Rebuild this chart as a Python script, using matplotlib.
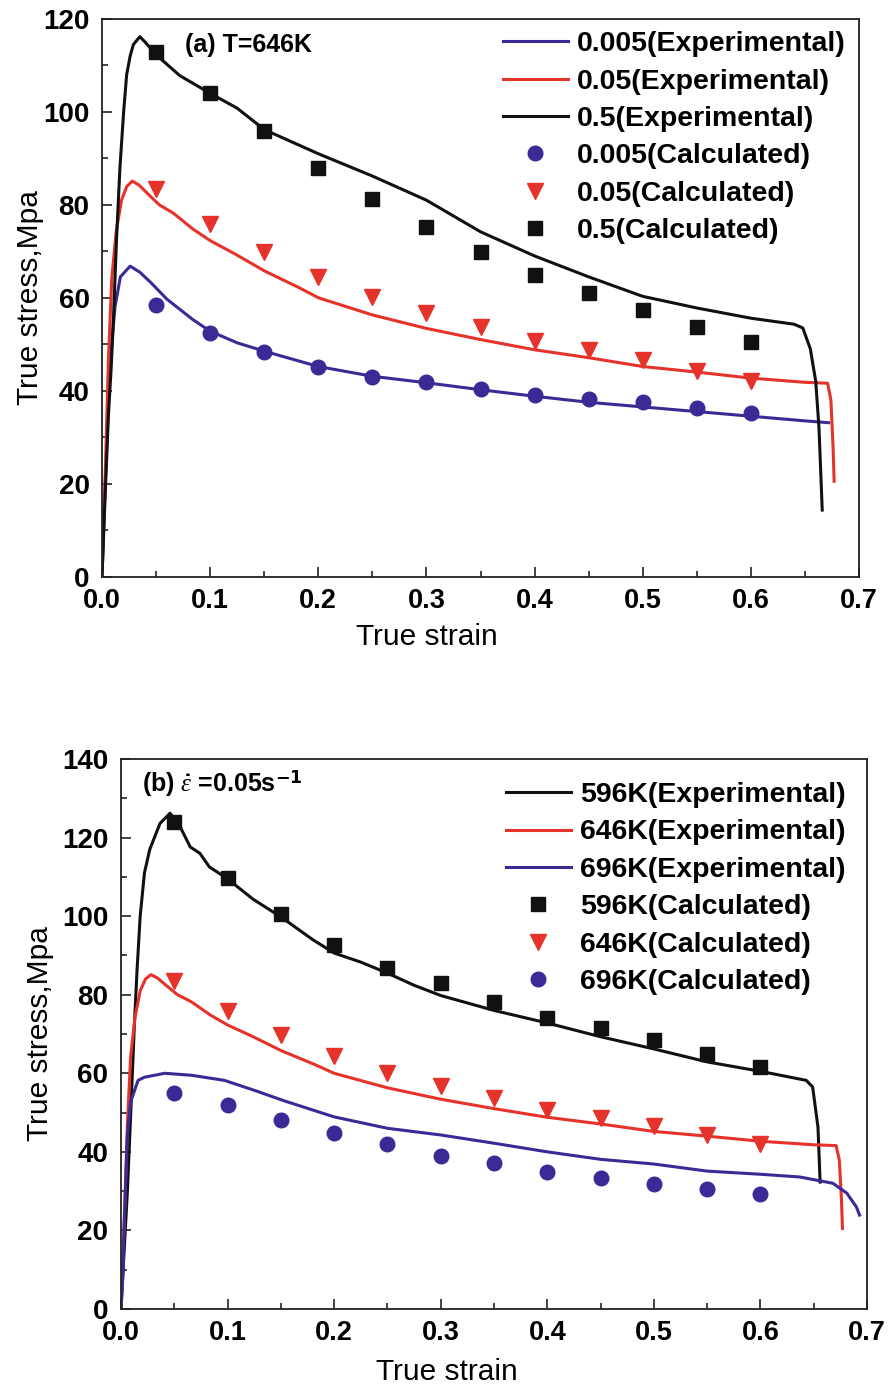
import matplotlib
matplotlib.use("Agg")
import matplotlib.pyplot as plt
from matplotlib.ticker import MultipleLocator

plt.rcParams['font.family'] = ['Liberation Sans', 'DejaVu Sans']
plt.rcParams['mathtext.fontset'] = 'custom'
plt.rcParams['mathtext.it'] = 'Liberation Serif:italic'
plt.rcParams['mathtext.rm'] = 'Liberation Sans:bold'

BLUE = '#3b2a96'
RED = '#e5322a'
BLACK = '#111111'

# ---------------- Panel (a): T = 646 K ----------------
a_exp_0005_strain = [0, 0.003, 0.006, 0.009, 0.012, 0.017, 0.026, 0.035, 0.045, 0.06, 0.084, 0.1,
                     0.125, 0.15, 0.2, 0.25, 0.3, 0.35, 0.4, 0.45, 0.5, 0.55, 0.6, 0.65, 0.672]
a_exp_0005_stress = [0, 20, 38, 50, 58, 64.5, 66.8, 65.5, 63.3, 59.7, 55.3, 52.8,
                     50.3, 48.5, 45.2, 43.1, 41.7, 40.2, 38.8, 37.5, 36.5, 35.5, 34.5, 33.5, 33.1]

exp_005_strain = [0, 0.003, 0.006, 0.009, 0.013, 0.018, 0.023, 0.028, 0.034, 0.044, 0.053, 0.066,
                  0.084, 0.1, 0.124, 0.15, 0.182, 0.2, 0.25, 0.3, 0.35, 0.4, 0.45, 0.5, 0.55,
                  0.6, 0.65, 0.671, 0.674, 0.676, 0.677]
exp_005_stress = [0, 22, 47, 64, 74, 81, 84, 85.1, 84.3, 82, 80, 78.2,
                  74.8, 72.3, 69.3, 65.8, 62.2, 60, 56.3, 53.4, 51, 48.8, 47.1, 45.2, 44,
                  42.7, 41.8, 41.6, 38, 28, 20.5]

a_exp_05_strain = [0, 0.003, 0.006, 0.0085, 0.0105, 0.0135, 0.0166, 0.02, 0.0228, 0.026, 0.029, 0.035,
                   0.04, 0.05, 0.072, 0.1, 0.125, 0.15, 0.2, 0.25, 0.3, 0.35, 0.4, 0.45, 0.5,
                   0.55, 0.6, 0.64, 0.648, 0.655, 0.66, 0.663, 0.666]
a_exp_05_stress = [0, 18, 35, 45, 55, 73, 88, 100, 108, 112, 114.5, 116.2,
                   115, 112.3, 107.8, 104, 100.8, 96.2, 91, 86.2, 81, 74.2, 69, 64.5, 60.3,
                   57.8, 55.6, 54.3, 53.5, 49, 42, 32, 14.3]

calc_strain = [0.05, 0.1, 0.15, 0.2, 0.25, 0.3, 0.35, 0.4, 0.45, 0.5, 0.55, 0.6]
a_calc_0005 = [58.5, 52.5, 48.3, 45, 43, 41.8, 40.3, 39, 38.3, 37.5, 36.3, 35.3]
calc_005 = [83.5, 75.8, 69.8, 64.5, 60.2, 56.8, 53.6, 50.6, 48.7, 46.6, 44.3, 42]
a_calc_05 = [113, 104, 96, 88, 81.2, 75.2, 69.8, 64.8, 61, 57.3, 53.6, 50.4]

# ---------------- Panel (b): strain rate 0.05 s^-1 ----------------
b_exp_596_strain = [0, 0.003, 0.006, 0.009, 0.0125, 0.015, 0.018, 0.022, 0.027, 0.0366, 0.046,
                    0.055, 0.065, 0.074, 0.083, 0.099, 0.124, 0.15, 0.18, 0.2, 0.225, 0.25,
                    0.275, 0.3, 0.35, 0.4, 0.45, 0.5, 0.55, 0.6, 0.643, 0.649, 0.654, 0.656]
b_exp_596_stress = [0, 15, 30, 49, 72, 86, 100, 111, 117, 123.6, 126.2,
                    123, 117.6, 116, 112.5, 109.7, 104.3, 99.8, 94, 90.6, 88.3, 85.5,
                    82.4, 79.8, 76, 72.8, 69.3, 66.2, 62.9, 60.5, 58.2, 56.5, 46.3, 32.3]

b_exp_696_strain = [0, 0.002, 0.003, 0.006, 0.009, 0.016, 0.022, 0.041, 0.066, 0.097, 0.128,
                    0.153, 0.2, 0.25, 0.3, 0.35, 0.4, 0.45, 0.5, 0.55, 0.6, 0.637, 0.668,
                    0.681, 0.69, 0.693]
b_exp_696_stress = [0, 10, 21.6, 44.5, 52.7, 58.2, 59, 60, 59.5, 58.2, 55.4,
                    53, 48.9, 46, 44.3, 42.2, 40, 38.1, 36.9, 35.1, 34.3, 33.6, 32,
                    29.5, 26, 23.9]

b_calc_596 = [124, 109.6, 100.6, 92.6, 86.7, 82.9, 78.1, 74, 71.5, 68.4, 65, 61.6]
b_calc_696 = [55, 51.9, 48.1, 44.8, 41.9, 39, 37.1, 35, 33.4, 31.8, 30.5, 29.2]

W, H = 889, 1388
fig = plt.figure(figsize=(W / 100, H / 100), dpi=100)
ax_a = fig.add_axes([102 / W, 1 - 576.5 / H, 757 / W, 557.5 / H])
ax_b = fig.add_axes([121 / W, 1 - 1309 / H, 746 / W, 550 / H])

LW = 2.2
for ax in (ax_a, ax_b):
    for s in ax.spines.values():
        s.set_linewidth(1.3)
        s.set_color('#222222')
    ax.set_xlim(0, 0.7)
    ax.xaxis.set_major_locator(MultipleLocator(0.1))
    ax.xaxis.set_minor_locator(MultipleLocator(0.05))
    ax.yaxis.set_major_locator(MultipleLocator(20))
    ax.yaxis.set_minor_locator(MultipleLocator(10))
    ax.tick_params(which='both', direction='in', top=False, right=False, width=1.2, color='#222222')
    ax.tick_params(which='major', length=7.5)
    ax.tick_params(which='minor', length=4)
    ax.tick_params(axis='y', labelsize=20, pad=9)
    ax.tick_params(axis='x', labelsize=19.5, pad=8)
    ax.xaxis.set_major_formatter(matplotlib.ticker.FormatStrFormatter('%.1f'))
    for lab in ax.get_xticklabels() + ax.get_yticklabels():
        lab.set_fontweight('bold')
    ax.set_ylabel('True stress,Mpa', fontsize=21.5)
    ax.set_xlabel('True strain', fontsize=21.5)

# Panel (a)
ax_a.set_ylim(0, 120)
ax_a.plot(a_exp_0005_strain, a_exp_0005_stress, color=BLUE, lw=LW, label='0.005(Experimental)')
ax_a.plot(exp_005_strain, exp_005_stress, color=RED, lw=LW, label='0.05(Experimental)')
ax_a.plot(a_exp_05_strain, a_exp_05_stress, color=BLACK, lw=LW, label='0.5(Experimental)')
ax_a.plot(calc_strain, a_calc_0005, 'o', color=BLUE, ms=10.5, ls='none', label='0.005(Calculated)')
ax_a.plot(calc_strain, calc_005, 'v', color=RED, ms=11, ls='none', label='0.05(Calculated)')
ax_a.plot(calc_strain, a_calc_05, 's', color=BLACK, ms=9.5, ls='none', label='0.5(Calculated)')
ax_a.text(0.11, 0.953, '(a) T=646K', transform=ax_a.transAxes, fontsize=18,
          fontweight='bold', va='center', ha='left')

# Panel (b)
ax_b.set_ylim(0, 140)
ax_b.plot(b_exp_596_strain, b_exp_596_stress, color=BLACK, lw=LW, label='596K(Experimental)')
ax_b.plot(exp_005_strain, exp_005_stress, color=RED, lw=LW, label='646K(Experimental)')
ax_b.plot(b_exp_696_strain, b_exp_696_stress, color=BLUE, lw=LW, label='696K(Experimental)')
ax_b.plot(calc_strain, b_calc_596, 's', color=BLACK, ms=9.5, ls='none', label='596K(Calculated)')
ax_b.plot(calc_strain, calc_005, 'v', color=RED, ms=11, ls='none', label='646K(Calculated)')
ax_b.plot(calc_strain, b_calc_696, 'o', color=BLUE, ms=10.5, ls='none', label='696K(Calculated)')
ax_b.text(0.028, 0.956, r'(b) $\dot{\varepsilon}$ =0.05s$^{\mathbf{-1}}$', transform=ax_b.transAxes,
          fontsize=18, fontweight='bold', va='center', ha='left')

for ax, anchor in ((ax_a, (0.982, 0.978)), (ax_b, (0.971, 0.958))):
    ax.legend(loc='upper right', bbox_to_anchor=anchor, frameon=False,
              prop={'weight': 'bold', 'size': 20.5}, handlelength=2.3, handletextpad=0.3,
              labelspacing=0.4, borderpad=0, borderaxespad=0)

ax_a.xaxis.set_label_coords(0.429, -0.083)
ax_b.xaxis.set_label_coords(0.437, -0.09)
ax_a.yaxis.set_label_coords(-0.077, 0.5)
ax_b.yaxis.set_label_coords(-0.09, 0.5)

fig.savefig('out.png', dpi=100)
